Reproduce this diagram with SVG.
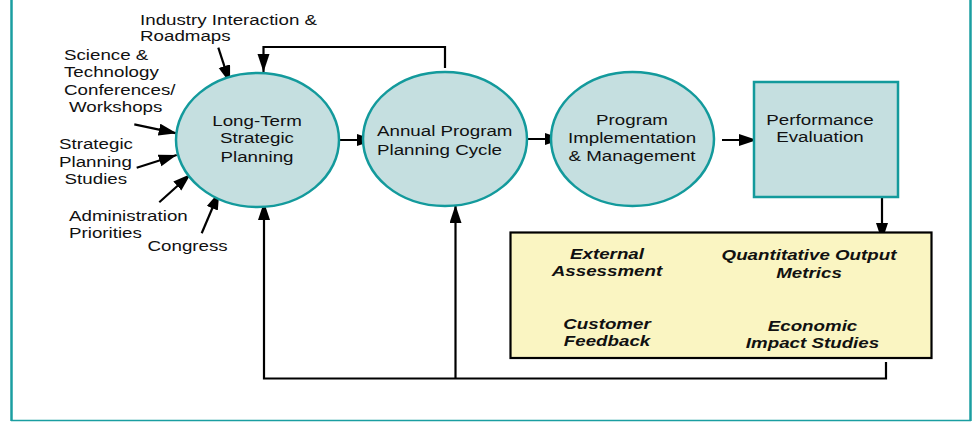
<svg xmlns="http://www.w3.org/2000/svg" width="974" height="422" viewBox="0 0 974 422">
<style>
.t{font-family:"Liberation Sans",Arial,sans-serif;font-size:15px;fill:#111}
.b{font-family:"Liberation Sans",Arial,sans-serif;font-size:15px;font-weight:bold;font-style:italic;fill:#111}
.node{fill:#C5DFE0;stroke:#139A9C;stroke-width:2.5}
.c{fill:none;stroke:#000;stroke-width:2.2}
.frame{stroke:#1A9EA1;fill:none}
</style>
<defs>
<marker id="ah" markerUnits="userSpaceOnUse" markerWidth="20" markerHeight="14" refX="18" refY="6" orient="auto">
<path d="M0,0 L18,6 L0,12 Z" fill="#000"/>
</marker>
</defs>
<rect width="974" height="422" fill="#fff"/>
<g id="frame">
<line class="frame" x1="11.5" y1="0" x2="11.5" y2="421" stroke-width="2.5"/>
<line class="frame" x1="970.5" y1="0" x2="970.5" y2="421" stroke-width="2.5"/>
<line class="frame" x1="11" y1="420.5" x2="971" y2="420.5" stroke-width="1.5"/>
</g>
<g id="inputs">
<g id="industry"><text class="t" transform="translate(140,0) scale(1.25,1)"><tspan x="0" y="25">Industry Interaction &amp;</tspan><tspan x="0" y="41">Roadmaps</tspan></text></g>
<g id="science"><text class="t" transform="translate(64,0) scale(1.25,1)"><tspan x="0" y="60">Science &amp;</tspan><tspan x="0" y="77.5">Technology</tspan><tspan x="0" y="95">Conferences/</tspan><tspan x="4" y="112.5">Workshops</tspan></text></g>
<g id="strategic"><text class="t" transform="translate(59,0) scale(1.25,1)"><tspan x="0" y="149.5">Strategic</tspan><tspan x="0" y="167">Planning</tspan><tspan x="4.5" y="184.5">Studies</tspan></text></g>
<g id="admin"><text class="t" transform="translate(69,0) scale(1.25,1)"><tspan x="0" y="221.5">Administration</tspan><tspan x="0" y="238.5">Priorities</tspan></text></g>
<g id="congress"><text class="t" transform="translate(147.5,0) scale(1.25,1)"><tspan x="0" y="251.5">Congress</tspan></text></g>
</g>
<g id="connectors">
<line class="c" x1="218.3" y1="47.7" x2="230" y2="83.3" marker-end="url(#ah)"/>
<line class="c" x1="134.3" y1="124.3" x2="176.7" y2="133.3" marker-end="url(#ah)"/>
<line class="c" x1="136.7" y1="167.7" x2="176.7" y2="155" marker-end="url(#ah)"/>
<line class="c" x1="159.3" y1="202.3" x2="190.7" y2="174" marker-end="url(#ah)"/>
<line class="c" x1="201.7" y1="233.3" x2="219.3" y2="191.7" marker-end="url(#ah)"/>
<line class="c" x1="340" y1="140" x2="375" y2="140" marker-end="url(#ah)"/>
<line class="c" x1="528" y1="139" x2="563" y2="139" marker-end="url(#ah)"/>
<line class="c" x1="722" y1="140" x2="757" y2="140" marker-end="url(#ah)"/>
<polyline class="c" points="445,68 445,47 263.5,47 263.5,72" marker-end="url(#ah)"/>
<line class="c" x1="882" y1="197" x2="882" y2="241" marker-end="url(#ah)"/>
<polyline class="c" points="886,362 886,378.5 264,378.5 264,202" marker-end="url(#ah)"/>
<line class="c" x1="455.5" y1="378.5" x2="455.5" y2="205" marker-end="url(#ah)"/>
</g>
<g id="long-term">
<ellipse class="node" cx="257.5" cy="140" rx="81.5" ry="67"/>
<text class="t" text-anchor="middle" transform="translate(257,0) scale(1.25,1)"><tspan x="0" y="126.5">Long-Term</tspan><tspan x="0" y="143.5">Strategic</tspan><tspan x="0" y="162">Planning</tspan></text>
</g>
<g id="annual">
<ellipse class="node" cx="445" cy="139" rx="82" ry="67"/>
<text class="t" transform="translate(377,0) scale(1.25,1)"><tspan x="0" y="136.5">Annual Program</tspan><tspan x="0" y="155">Planning Cycle</tspan></text>
</g>
<g id="implementation">
<ellipse class="node" cx="632.5" cy="139" rx="81.5" ry="67"/>
<text class="t" text-anchor="middle" transform="translate(632,0) scale(1.25,1)"><tspan x="0" y="125.5">Program</tspan><tspan x="0" y="143.5">Implementation</tspan><tspan x="0" y="161.5">&amp; Management</tspan></text>
</g>
<g id="performance">
<rect class="node" x="754" y="82" width="144" height="115"/>
<text class="t" text-anchor="middle" transform="translate(820,0) scale(1.25,1)"><tspan x="0" y="125.5">Performance</tspan><tspan x="0" y="142.5">Evaluation</tspan></text>
</g>
<g id="assessment">
<rect x="510.5" y="232.5" width="421" height="125.5" fill="#FAF5C2" stroke="#000" stroke-width="2.2"/>
<text class="b" text-anchor="middle" transform="translate(607,0) scale(1.25,1)"><tspan x="0" y="259.5">External</tspan><tspan x="0" y="276">Assessment</tspan><tspan x="0" y="329.5">Customer</tspan><tspan x="0" y="346.5">Feedback</tspan></text>
<text class="b" text-anchor="middle" transform="translate(809,0) scale(1.25,1)"><tspan x="0" y="260.5">Quantitative Output</tspan><tspan x="0" y="278">Metrics</tspan></text>
<text class="b" text-anchor="middle" transform="translate(812.5,0) scale(1.25,1)"><tspan x="0" y="331.5">Economic</tspan><tspan x="0" y="348.5">Impact Studies</tspan></text>
</g>
</svg>
